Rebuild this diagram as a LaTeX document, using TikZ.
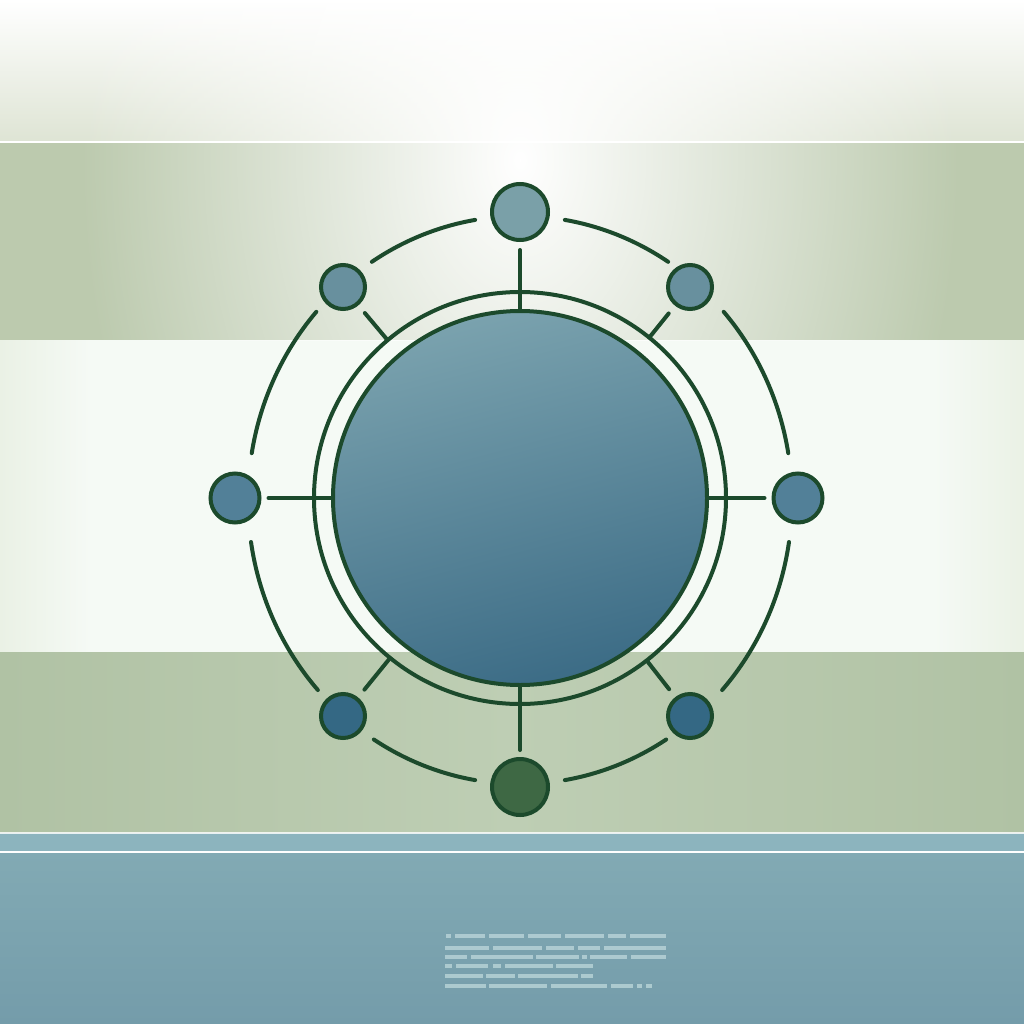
\documentclass[tikz,border=0pt]{standalone}
\usetikzlibrary{fadings}
\definecolor{stroke}{RGB}{28,74,44}
\definecolor{topedge}{RGB}{222,228,212}
\definecolor{sageA}{RGB}{188,202,174}
\definecolor{wbedge}{RGB}{234,241,229}
\definecolor{wbmid}{RGB}{245,250,245}
\definecolor{sageB}{RGB}{176,194,164}
\definecolor{sageBmid}{RGB}{190,206,180}
\definecolor{blueA}{RGB}{140,180,190}
\definecolor{blueTop}{RGB}{130,170,180}
\definecolor{blueBot}{RGB}{116,156,170}
\definecolor{coretop}{RGB}{122,162,174}
\definecolor{corebot}{RGB}{60,108,134}
\definecolor{satA}{RGB}{122,160,168}
\definecolor{satB}{RGB}{104,144,158}
\definecolor{satC}{RGB}{82,128,152}
\definecolor{satD}{RGB}{52,104,132}
\definecolor{satE}{RGB}{62,104,68}
\definecolor{barcol}{RGB}{182,210,214}
\tikzfading[name=glowfade, inner color=transparent!0, outer color=transparent!100]
\tikzset{
  ln/.style={draw=stroke, line width=4pt, line cap=round},
  sat/.style={circle, draw=stroke, line width=4pt, inner sep=0pt},
  txtbar/.style={fill=barcol, opacity=0.85},
}
\begin{document}
\begin{tikzpicture}[x=1pt,y=-1pt]
\useasboundingbox (0,0) rectangle (1024,1024);
% background bands
\shade[top color=white, bottom color=topedge] (0,0) rectangle (1024,142);
\fill[sageA] (0,142) rectangle (1024,340);
\fill[wbmid] (0,340) rectangle (1024,652);
\shade[left color=wbedge, right color=wbmid] (0,340) rectangle (90,652);
\shade[left color=wbmid, right color=wbedge] (934,340) rectangle (1024,652);
\shade[left color=sageB, right color=sageB, middle color=sageBmid] (0,652) rectangle (1024,833);
\fill[blueA] (0,833) rectangle (1024,852);
\shade[top color=blueTop, bottom color=blueBot] (0,852) rectangle (1024,1024);
\begin{scope}
  \clip (0,0) rectangle (1024,340);
  \fill[white, path fading=glowfade] (520,160) ellipse (440pt and 640pt);
\end{scope}
\draw[white, line width=1.5pt] (0,142) -- (1024,142);
\draw[white, line width=2pt, opacity=0.8] (0,833) -- (1024,833);
\draw[white, line width=2pt] (0,852) -- (1024,852);
% text-like bars
\foreach \a/\b in {446/451,455/485,489/524,528/561,565/604,608/626,630/666}
  \fill[txtbar] (\a,934) rectangle (\b,938);
\foreach \a/\b in {445/489,493/542,546/574,578/600,604/666}
  \fill[txtbar] (\a,946) rectangle (\b,950);
\foreach \a/\b in {445/467,471/533,536/579,582/587,590/627,631/666}
  \fill[txtbar] (\a,955) rectangle (\b,959);
\foreach \a/\b in {445/452,456/488,493/501,505/553,556/593}
  \fill[txtbar] (\a,964) rectangle (\b,968);
\foreach \a/\b in {445/483,486/515,518/578,581/593}
  \fill[txtbar] (\a,974) rectangle (\b,978);
\foreach \a/\b in {445/486,489/547,551/607,611/633,637/642,646/652}
  \fill[txtbar] (\a,984) rectangle (\b,988);
% main diagram
\coordinate (E) at (520,500);
\node[circle, draw=stroke, line width=4pt, inner sep=0pt, minimum size=412pt] (ring) at (520,498) {};
\node[circle, draw=stroke, line width=4pt, inner sep=0pt, minimum size=374pt,
      top color=coretop, bottom color=corebot, shading angle=15] (core) at (520,498) {};
\node[sat, minimum size=56pt, fill=satA] (n1) at (520,212) {};
\node[sat, minimum size=44pt, fill=satB] (n2) at (343,287) {};
\node[sat, minimum size=44pt, fill=satB] (n8) at (690,287) {};
\node[sat, minimum size=49pt, fill=satC] (n3) at (235,498) {};
\node[sat, minimum size=49pt, fill=satC] (n7) at (798,498) {};
\node[sat, minimum size=44pt, fill=satD] (n4) at (343,716) {};
\node[sat, minimum size=44pt, fill=satD] (n6) at (690,716) {};
\node[sat, minimum size=56pt, fill=satE] (n5) at (520,787) {};
% spokes
\draw[ln, shorten <=8pt] (n1) -- (core);
\draw[ln, shorten <=7pt] (n5) -- (core);
\draw[ln, shorten <=7pt] (n3) -- (core);
\draw[ln, shorten <=7pt] (n7) -- (core);
\draw[ln, shorten <=10pt] (n2) -- (ring);
\draw[ln, shorten <=10pt] (n8) -- (ring);
\draw[ln, shorten <=10pt] (n4) -- (ring);
\draw[ln, shorten <=10pt] (n6) -- (ring);
% outer arcs
\foreach \s/\e in {99.5/123, 57/80.5, 138.5/170.5, 9.5/41.5, 188.5/222, 318/351.5, 237.5/260.5, 279.5/302.5}
  \draw[ln] ([shift={(\s:272pt and 284pt)}]E) arc[start angle=\s, end angle=\e, x radius=272pt, y radius=284pt];
\end{tikzpicture}
\end{document}
